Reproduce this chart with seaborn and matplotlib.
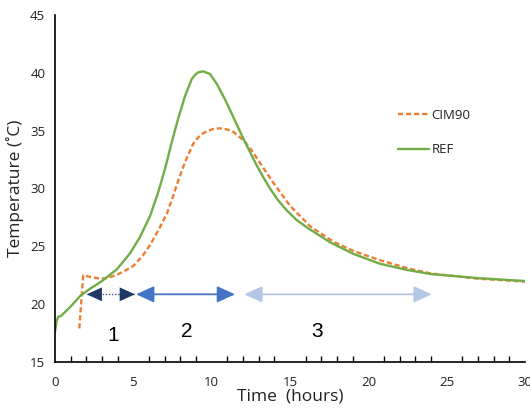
import matplotlib
matplotlib.use("Agg")
import matplotlib.pyplot as plt
from matplotlib.ticker import MultipleLocator
import seaborn as sns
import pandas as pd

# ---- data ----
ref_hours = [0.0, 0.1, 0.2, 0.4, 1.0, 1.6, 2.2, 3.0, 3.94, 4.79, 5.42, 6.06, 6.59, 7.02,
             7.45, 7.87, 8.30, 8.72, 8.95, 9.15, 9.46, 9.89, 10.32, 10.85, 11.3, 12.02,
             12.87, 13.3, 13.72, 14.2, 14.79, 15.4, 16.06, 17.55, 19.04, 20.74, 22.5, 24.0,
             27.0, 30.0]
ref_temp = [17.6, 18.5, 18.9, 19.0, 19.8, 20.7, 21.3, 22.0, 23.0, 24.4, 25.8, 27.6, 29.7, 31.7,
            34.0, 36.1, 38.0, 39.45, 39.85, 40.05, 40.13, 39.9, 39.05, 37.7, 36.4, 34.3,
            32.0, 30.95, 30.0, 29.05, 28.1, 27.3, 26.65, 25.35, 24.35, 23.49, 22.95, 22.6,
            22.25, 22.0]

cim_hours = [1.55, 1.8, 2.1, 2.9, 3.3, 3.9, 4.4, 5.0, 5.6, 6.06, 6.6, 7.13, 7.5, 7.87, 8.3,
             8.83, 9.25, 9.68, 10.1, 10.53, 11.0, 11.38, 12.08, 12.6, 13.08, 13.93, 15.0,
             16.27, 17.76, 19.04, 20.74, 22.5, 24.0, 27.0, 30.0]
cim_temp = [17.9, 22.5, 22.4, 22.2, 22.25, 22.5, 22.85, 23.3, 24.2, 25.1, 26.4, 27.8, 29.2, 30.7, 32.3,
            33.9, 34.6, 34.95, 35.15, 35.2, 35.1, 34.9, 34.1, 33.2, 32.2, 30.5, 28.5,
            26.75, 25.4, 24.6, 23.8, 23.1, 22.65, 22.2, 21.95]

series_names = ["CIM90", "REF"]
series_colors = ["#ED7D31", "#70AD47"]

phase_labels = ["1", "2", "3"]
phase_start = [2.02, 5.17, 12.08]
phase_end = [5.10, 11.49, 24.04]
phase_label_x = [3.72, 8.4, 16.74]
phase_label_y = [17.27, 17.64, 17.64]
arrow_level = 20.85
phase_colors = ["#1F3864", "#4472C4", "#B4C7E7"]
phase_dotted = [True, False, False]

x_ticks = [0, 5, 10, 15, 20, 25, 30]
y_ticks = [15, 20, 25, 30, 35, 40, 45]

df = pd.concat([
    pd.DataFrame({"Time": cim_hours, "Temp": cim_temp, "Series": series_names[0]}),
    pd.DataFrame({"Time": ref_hours, "Temp": ref_temp, "Series": series_names[1]}),
], ignore_index=True)

sns.set_theme(style="white")
plt.rcParams["font.family"] = ["Open Sans", "DejaVu Sans"]

fig = plt.figure(figsize=(5.30, 4.12), dpi=100)
ax = fig.add_axes([0.1038, 0.1214, 0.887, 0.8422])

sns.lineplot(data=df, x="Time", y="Temp", hue="Series", style="Series",
             hue_order=series_names, style_order=series_names,
             palette=dict(zip(series_names, series_colors)),
             dashes={"CIM90": (2.2, 1.2), "REF": ""},
             estimator=None, sort=False, linewidth=1.7, ax=ax)

for s, e, c, dotted in zip(phase_start, phase_end, phase_colors, phase_dotted):
    if dotted:
        ax.plot([s, e], [arrow_level, arrow_level], color=c, lw=1.0,
                linestyle=(0, (1, 1.2)), solid_capstyle="butt", alpha=0.85)
        shaft_lw = 0
    else:
        shaft_lw = 1.3
    ax.annotate("", xy=(e, arrow_level), xytext=(s, arrow_level),
                arrowprops=dict(arrowstyle="<|-|>,head_length=1.1,head_width=0.5",
                                color=c, lw=shaft_lw,
                                shrinkA=0, shrinkB=0, mutation_scale=10))

for t, lx, ly in zip(phase_labels, phase_label_x, phase_label_y):
    ax.text(lx, ly, t, ha="center", va="center", fontsize=15,
            family=["Liberation Sans", "DejaVu Sans"], color="black")

ax.set_xlim(0, 30)
ax.set_ylim(15, 45)
ax.set_xticks(x_ticks)
ax.set_yticks(y_ticks)
ax.xaxis.set_minor_locator(MultipleLocator(1))
ax.tick_params(axis="both", which="major", direction="inout", length=8, width=1,
               color="black", labelsize=9.5, labelcolor="#222222", pad=3)
ax.tick_params(axis="x", which="minor", direction="in", length=4, width=1,
               color="black", bottom=True)
ax.tick_params(axis="x", pad=6)

for side in ["top", "right"]:
    ax.spines[side].set_visible(False)
for side in ["left", "bottom"]:
    ax.spines[side].set_color("black")
    ax.spines[side].set_linewidth(1.2)

ax.set_xlabel("Time  (hours)", fontsize=12.5, color="#222222", labelpad=0)
ax.set_ylabel("Temperature (˚C)", fontsize=12.5, color="#222222", labelpad=4)

leg = ax.legend(loc="upper left", bbox_to_anchor=(0.705, 0.763), frameon=False,
                fontsize=9.5, handlelength=2.3, handletextpad=0.2, labelspacing=1.6)
for txt in leg.get_texts():
    txt.set_color("#222222")

fig.savefig("out.png", dpi=100)
